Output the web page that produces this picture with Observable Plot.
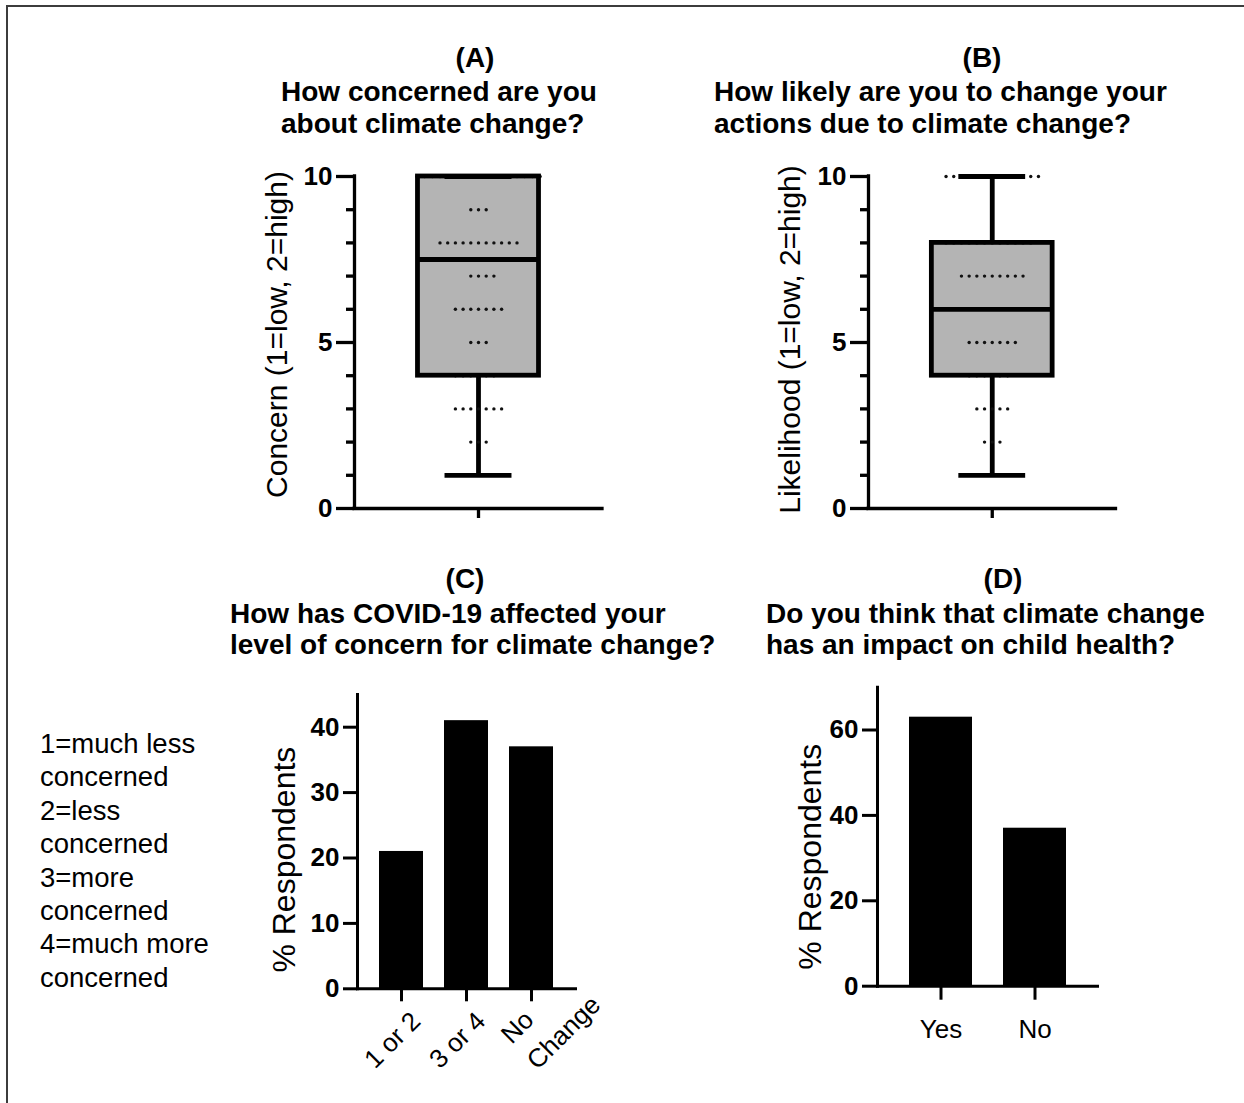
<!DOCTYPE html>
<html>
<head>
<meta charset="utf-8">
<script src="https://cdn.jsdelivr.net/npm/d3@7"></script>
<script src="https://cdn.jsdelivr.net/npm/@observablehq/plot@0.6"></script>
<style>
  html, body { margin: 0; padding: 0; background: #fff; }
  body { width: 1244px; height: 1103px; position: relative; overflow: hidden;
         font-family: "Liberation Sans", Arial, Helvetica, sans-serif; color: #000; }
  #border { position: absolute; left: 6px; top: 5px; width: 1300px; height: 1200px;
            border-left: 2px solid #3c3c3c; border-top: 2px solid #3c3c3c; }
  .letter, .title { position: absolute; font-weight: bold; font-size: 28px; line-height: 31.5px; white-space: pre; }
  .letter { width: 200px; text-align: center; }
  #legend { position: absolute; left: 40px; top: 727px; font-size: 27.5px; line-height: 33.4px; white-space: pre; }
  .panel { position: absolute; }
  .panel svg { overflow: visible; }
</style>
</head>
<body>
<div id="border"></div>

<div class="letter" style="left:375px;top:41.5px">(A)</div>
<div class="title" style="left:281px;top:76.3px">How concerned are you
about climate change?</div>

<div class="letter" style="left:882px;top:41.5px">(B)</div>
<div class="title" style="left:714px;top:76.3px">How likely are you to change your
actions due to climate change?</div>

<div class="letter" style="left:365px;top:562.5px">(C)</div>
<div class="title" style="left:230px;top:597.5px">How has COVID-19 affected your
level of concern for climate change?</div>

<div class="letter" style="left:903px;top:562.5px">(D)</div>
<div class="title" style="left:766px;top:597.5px">Do you think that climate change
has an impact on child health?</div>

<div id="legend">1=much less
concerned
2=less
concerned
3=more
concerned
4=much more
concerned</div>

<div class="panel" id="panelA" style="left:230px;top:150px"></div>
<div class="panel" id="panelB" style="left:740px;top:150px"></div>
<div class="panel" id="panelC" style="left:230px;top:660px"></div>
<div class="panel" id="panelD" style="left:760px;top:660px"></div>

<script>
// ---------- DATA ----------
const scoreValues = [1, 2, 3, 4, 5, 6, 7, 8, 9, 10];
// number of respondents giving each score (read from the dot clusters)
const concernCounts    = [1, 3, 7, 6, 3, 7, 4, 11, 3, 17];
const likelihoodCounts = [1, 3, 5, 6, 7, 4, 9, 12, 0, 13];
// box summary: min, Q1, median, Q3, max
const boxStatNames     = ["min", "q1", "median", "q3", "max"];
const concernStats     = [1, 4, 7.5, 10, 10];
const likelihoodStats  = [1, 4, 6, 8, 10];
const scoreMajorTicks  = [0, 5, 10];
const scoreMinorTicks  = [1, 2, 3, 4, 6, 7, 8, 9];

const covidCategories  = ["1 or 2", "3 or 4", "No\nChange"];
const covidPercent     = [21, 41, 37];
const covidTicks       = [0, 10, 20, 30, 40];

const healthCategories = ["Yes", "No"];
const healthPercent    = [63, 37];
const healthTicks      = [0, 20, 40, 60];

// ---------- STYLE ----------
const FONT = "'Liberation Sans', Arial, Helvetica, sans-serif";
const AXW = 3.3;        // axis line width
const BOXW = 4.8;       // box line width
const BOX_HALF = 0.488; // half box width in x units
const CAP_HALF = 0.27;  // half whisker-cap width in x units
const TICKFONT = 26;

function boxPanel(counts, stats, label, m, lab) {
  const s = Object.fromEntries(boxStatNames.map((k, i) => [k, stats[i]]));
  const responses = scoreValues.flatMap((v, i) => d3.range(counts[i]).map(() => v));
  return Plot.plot({
    width: 400, height: 400,
    marginLeft: m.left, marginRight: m.right, marginTop: 26, marginBottom: 42,
    x: {domain: [-1, 1], axis: null},
    y: {domain: [0, 10], axis: null},
    style: {fontFamily: FONT, background: "none", color: "#000", overflow: "visible"},
    marks: [
      Plot.ruleX([s], {x: 0, y1: "min", y2: "max", stroke: "#000", strokeWidth: BOXW}),
      Plot.rect([s], {x1: -BOX_HALF, x2: BOX_HALF, y1: "q1", y2: "q3", fill: "#b4b4b4"}),
      Plot.dot(responses, Plot.dodgeX({anchor: "middle", padding: 4.3}, {y: d => d, r: 1.7, fill: "#111", stroke: "none"})),
      Plot.rect([s], {x1: -BOX_HALF, x2: BOX_HALF, y1: "q1", y2: "q3", fill: "none", stroke: "#000", strokeWidth: BOXW}),
      Plot.ruleY([s], {y: "median", x1: -BOX_HALF, x2: BOX_HALF, stroke: "#000", strokeWidth: BOXW}),
      Plot.ruleY([s], {y: "min", x1: -CAP_HALF, x2: CAP_HALF, stroke: "#000", strokeWidth: BOXW}),
      Plot.ruleY([s], {y: "max", x1: -CAP_HALF, x2: CAP_HALF, stroke: "#000", strokeWidth: BOXW}),
      Plot.axisY(scoreMinorTicks, {label: null, tickSize: 8, tickFormat: () => "", strokeWidth: AXW}),
      Plot.axisY(scoreMajorTicks, {label: null, tickSize: 18, tickPadding: 4, fontSize: TICKFONT, fontWeight: "bold", strokeWidth: AXW}),
      Plot.axisX([0], {label: null, tickSize: 10, tickFormat: () => "", strokeWidth: AXW}),
      Plot.ruleX([-1], {stroke: "#000", strokeWidth: AXW, strokeLinecap: "square"}),
      Plot.ruleY([0], {stroke: "#000", strokeWidth: AXW, strokeLinecap: "square"}),
      Plot.text([label], {text: d => d, frameAnchor: "left", rotate: -90, textAnchor: "middle", lineAnchor: "top",
        dx: lab.dx, dy: lab.dy, fontSize: 30, fill: "#000"})
    ]
  });
}

function barPanel(cats, vals, ticks, ymax, m, opt) {
  const rows = cats.map((c, i) => ({c, v: vals[i]}));
  const marks = [
    Plot.barY(rows, {x: "c", y: "v", fill: "#000"}),
    Plot.axisY(ticks, {label: null, tickSize: opt.tickY, tickPadding: 4, fontSize: TICKFONT, fontWeight: "bold", strokeWidth: 3}),
    Plot.frame({anchor: "left", strokeWidth: 3}),
    Plot.frame({anchor: "bottom", strokeWidth: 3}),
    Plot.text(["% Respondents"], {text: d => d, frameAnchor: "left", rotate: -90, textAnchor: "middle", lineAnchor: "top",
      dx: opt.labDx, dy: opt.labDy, fontSize: 32, fill: "#000"})
  ];
  if (opt.rotated) {
    marks.push(
      Plot.axisX(cats, {label: null, tickSize: 13, tickFormat: () => "", strokeWidth: 3}),
      Plot.text(cats.filter(c => !c.includes("\n")), {x: d => d, text: d => d, frameAnchor: "bottom",
        rotate: -45, textAnchor: "end", lineAnchor: "middle", dx: 14.6, dy: 28, fontSize: 26, fill: "#000"}),
      Plot.text(cats.filter(c => c.includes("\n")), {x: d => d, text: d => d, frameAnchor: "bottom",
        rotate: -45, textAnchor: "start", lineAnchor: "top", lineHeight: 1.4, dx: -38, dy: 38, fontSize: 26, fill: "#000"})
    );
  } else {
    marks.push(Plot.axisX(cats, {label: null, tickSize: 14, tickPadding: 19, fontSize: 26, strokeWidth: 3}));
  }
  return Plot.plot({
    width: 400, height: opt.height,
    marginLeft: m.left, marginRight: m.right, marginTop: m.top, marginBottom: m.bottom,
    x: {domain: cats, padding: 0.33, axis: null},
    y: {domain: [0, ymax], axis: null},
    style: {fontFamily: FONT, background: "none", color: "#000", overflow: "visible"},
    marks
  });
}

document.getElementById("panelA").append(
  boxPanel(concernCounts, concernStats, "Concern (1=low, 2=high)", {left: 124, right: 28}, {dx: -89, dy: -8}));
document.getElementById("panelB").append(
  boxPanel(likelihoodCounts, likelihoodStats, "Likelihood (1=low, 2=high)", {left: 128, right: 24.5}, {dx: -90, dy: -3}));
document.getElementById("panelC").append(
  barPanel(covidCategories, covidPercent, covidTicks, 45,
    {left: 127, right: 55, top: 34, bottom: 101.7},
    {height: 430, tickY: 14, labDx: -85, labDy: 18, rotated: true}));
document.getElementById("panelD").append(
  barPanel(healthCategories, healthPercent, healthTicks, 70,
    {left: 117, right: 63, top: 26.8, bottom: 74.3},
    {height: 400, tickY: 15, labDx: -79, labDy: 20, rotated: false}));
</script>
</body>
</html>
